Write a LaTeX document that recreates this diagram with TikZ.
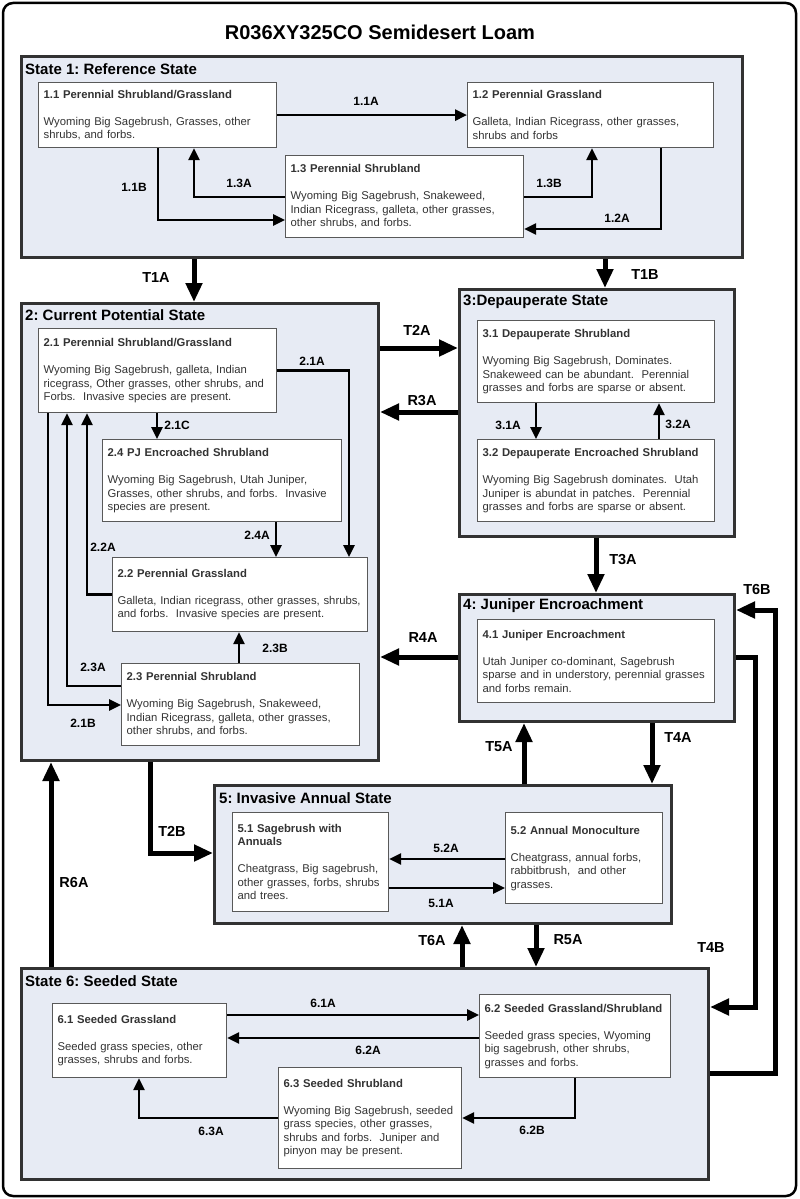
\documentclass[tikz,border=0pt]{standalone}
\usepackage{fontspec}
\setmainfont{Liberation Sans}
\usepackage{xcolor}
\usetikzlibrary{arrows.meta}
\frenchspacing
\definecolor{stfill}{RGB}{231,235,244}
\definecolor{stline}{RGB}{50,50,50}
\tikzset{
  state/.style = {draw=stline, line width=3pt, fill=stfill, anchor=north west,
                  inner sep=0pt},
  phase/.style 2 args = {draw=black!65, line width=1.2pt, fill=white,
                  anchor=north west, inner xsep=5pt, inner ysep=0pt,
                  text width=#1pt, minimum height=#2pt, align=left,
                  text=black!80, font=\fontsize{11.3}{13.5}\selectfont},
  sttl/.style = {anchor=west, inner sep=0pt, font=\fontsize{15}{18}\selectfont\bfseries},
  plab/.style = {inner sep=0pt, font=\fontsize{12}{14}\selectfont\bfseries},
  tlab/.style = {inner sep=0pt, font=\fontsize{14.5}{17}\selectfont\bfseries},
  pathw/.style = {line width=2.6pt, -{Triangle[length=12pt,width=11pt]}},
  trans/.style = {line width=5pt, -{Triangle[length=19pt,width=16pt]}}
}

\begin{document}
\begin{tikzpicture}[x=1pt, y=-1pt]
	\useasboundingbox (0,0) rectangle (800,1199);
	\fill[white] (0,0) rectangle (800,1199);
	\draw[line width=2.5pt, rounded corners=10pt] (3,3) rectangle (796,1196);
	\node[font=\fontsize{20}{24}\selectfont\bfseries] (ttl) at (380,32) {R036XY325CO Semidesert Loam};
	
	% State 1
	\node[state, minimum width=721pt, minimum height=201pt] (st1) at (20,55) {};
	\node[sttl] (t1) at (25,69) {State 1: Reference State};
	\node[phase={228}{65}] (s11) at (38,82) {\textbf{1.1 Perennial Shrubland/Grassland}\\[13.5pt]Wyoming Big Sagebrush, Grasses, other\\shrubs, and forbs.};
	\node[phase={236}{65}] (s12) at (467,82) {\textbf{1.2 Perennial Grassland}\\[13.5pt]Galleta, Indian Ricegrass, other grasses,\\shrubs and forbs};
	\node[phase={228}{82}] (s13) at (285,155) {\textbf{1.3 Perennial Shrubland}\\[13.5pt]Wyoming Big Sagebrush, Snakeweed,\\Indian Ricegrass, galleta, other grasses,\\other shrubs, and forbs.};
	
	% State 2
	\node[state, minimum width=357pt, minimum height=457pt] (st2) at (20,302) {};
	\node[sttl] (t2) at (25,315) {2: Current Potential State};
	\node[phase={228}{84}] (s21) at (38,328) {\textbf{2.1 Perennial Shrubland/Grassland}\\[13.5pt]Wyoming Big Sagebrush, galleta, Indian\\ricegrass, Other grasses, other shrubs, and\\Forbs.\ \ Invasive species are present.};
	\node[phase={229}{82}] (s24) at (102,439) {\textbf{2.4 PJ Encroached Shrubland}\\[13.5pt]Wyoming Big Sagebrush, Utah Juniper,\\Grasses, other shrubs, and forbs.\ \ Invasive\\species are present.};
	\node[phase={245}{74}] (s22) at (112,557) {\textbf{2.2 Perennial Grassland}\\[13.5pt]Galleta, Indian ricegrass, other grasses, shrubs,\\and forbs.\ \ Invasive species are present.};
	\node[phase={228}{82}] (s23) at (121,663) {\textbf{2.3 Perennial Shrubland}\\[13.5pt]Wyoming Big Sagebrush, Snakeweed,\\Indian Ricegrass, galleta, other grasses,\\other shrubs, and forbs.};
	
	% State 3
	\node[state, minimum width=275pt, minimum height=247pt] (st3) at (458,288) {};
	\node[sttl] (t3) at (463,302) {3:Depauperate State};
	\node[phase={227}{82}] (s31) at (477,320) {\textbf{3.1 Depauperate Shrubland}\\[13.5pt]Wyoming Big Sagebrush, Dominates.\\Snakeweed can be abundant.\ \ Perennial\\grasses and forbs are sparse or absent.};
	\node[phase={227}{82}] (s32) at (477,439) {\textbf{3.2 Depauperate Encroached Shrubland}\\[13.5pt]Wyoming Big Sagebrush dominates.\ \ Utah\\Juniper is abundat in patches.\ \ Perennial\\grasses and forbs are sparse or absent.};
	
	% State 4
	\node[state, minimum width=275pt, minimum height=127pt] (st4) at (458,593) {};
	\node[sttl] (t4) at (463,606) {4: Juniper Encroachment};
	\node[phase={227}{83}] (s41) at (477,619) {\textbf{4.1 Juniper Encroachment}\\[13.5pt]Utah Juniper co-dominant, Sagebrush\\sparse and in understory, perennial grasses\\and forbs remain.};
	
	% State 5
	\node[state, minimum width=457pt, minimum height=138pt] (st5) at (213,784) {};
	\node[sttl] (t5) at (219,798) {5: Invasive Annual State};
	\node[phase={146}{99}] (s51) at (232,812) {\textbf{5.1 Sagebrush with\\Annuals}\\[13.5pt]Cheatgrass, Big sagebrush,\\other grasses, forbs, shrubs\\and trees.};
	\node[phase={147}{91}] (s52) at (505,812) {\textbf{5.2 Annual Monoculture}\\[13.5pt]Cheatgrass, annual forbs,\\rabbitbrush,\ \ and other\\grasses.};
	
	% State 6
	\node[state, minimum width=687pt, minimum height=211pt] (st6) at (20,967) {};
	\node[sttl] (t6) at (25,981) {State 6: Seeded State};
	\node[phase={164}{74}] (s61) at (52,1003) {\textbf{6.1 Seeded Grassland}\\[13.5pt]Seeded grass species, other\\grasses, shrubs and forbs.};
	\node[phase={181}{83}] (s62) at (479,994) {\textbf{6.2 Seeded Grassland/Shrubland}\\[13.5pt]Seeded grass species, Wyoming\\big sagebrush, other shrubs,\\grasses and forbs.};
	\node[phase={173}{101}] (s63) at (278,1067) {\textbf{6.3 Seeded Shrubland}\\[13.5pt]Wyoming Big Sagebrush, seeded\\grass species, other grasses,\\shrubs and forbs.\ \ Juniper and\\pinyon may be present.};
	
	% Pathways within states
	\coordinate (p11B) at (158,220);
	\coordinate (p13A) at (194,197);
	\coordinate (p13B) at (592,197);
	\coordinate (p12A) at (661,229);
	\draw[pathw] (s11.east) -- (s12.west);
	\draw[pathw] (s11.south -| p11B) |- (s13.west |- p11B);
	\draw[pathw] (s13.west |- p13A) -| (s11.south -| p13A);
	\draw[pathw] (s13.east |- p13B) -| (s12.south -| p13B);
	\draw[pathw] (s12.south -| p12A) |- (s13.east |- p12A);
	
	\coordinate (p21A) at (349,0);
	\coordinate (p21C) at (157,0);
	\coordinate (p24A) at (276,0);
	\coordinate (p22A) at (87,0);
	\coordinate (p23B) at (239,0);
	\coordinate (p23A) at (67,686);
	\coordinate (p21B) at (48,705);
	\draw[pathw] (s21.east) -| (s22.north -| p21A);
	\draw[pathw] (s21.south -| p21C) -- (s24.north -| p21C);
	\draw[pathw] (s24.south -| p24A) -- (s22.north -| p24A);
	\draw[pathw] (s22.west) -| (s21.south -| p22A);
	\draw[pathw] (s23.north -| p23B) -- (s22.south -| p23B);
	\draw[pathw] (s23.west |- p23A) -| (s21.south -| p23A);
	\draw[pathw] (s21.south -| p21B) |- (s23.west |- p21B);
	
	\coordinate (p31A) at (536,0);
	\coordinate (p32A) at (659,0);
	\draw[pathw] (s31.south -| p31A) -- (s32.north -| p31A);
	\draw[pathw] (s32.north -| p32A) -- (s31.south -| p32A);
	
	\coordinate (p52A) at (0,859);
	\coordinate (p51A) at (0,888);
	\draw[pathw] (s52.west |- p52A) -- (s51.east |- p52A);
	\draw[pathw] (s51.east |- p51A) -- (s52.west |- p51A);
	
	\coordinate (p61A) at (0,1015);
	\coordinate (p62A) at (0,1038);
	\coordinate (p63A) at (139,1118);
	\coordinate (p62B) at (575,1118);
	\draw[pathw] (s61.east |- p61A) -- (s62.west |- p61A);
	\draw[pathw] (s62.west |- p62A) -- (s61.east |- p62A);
	\draw[pathw] (s63.west |- p63A) -| (s61.south -| p63A);
	\draw[pathw] (s62.south -| p62B) |- (s63.east |- p62B);
	
	\node[plab] (l11A) at (366,101) {1.1A};
	\node[plab] (l11B) at (134,187) {1.1B};
	\node[plab] (l13A) at (239,183) {1.3A};
	\node[plab] (l13B) at (549,183) {1.3B};
	\node[plab] (l12A) at (617,218) {1.2A};
	\node[plab] (l21A) at (312,361) {2.1A};
	\node[plab] (l21C) at (177,425) {2.1C};
	\node[plab] (l24A) at (257,535) {2.4A};
	\node[plab] (l22A) at (103,547) {2.2A};
	\node[plab] (l23B) at (275,648) {2.3B};
	\node[plab] (l23A) at (93,667) {2.3A};
	\node[plab] (l21B) at (83,723) {2.1B};
	\node[plab] (l31A) at (508,425) {3.1A};
	\node[plab] (l32A) at (678,424) {3.2A};
	\node[plab] (l52A) at (446,848) {5.2A};
	\node[plab] (l51A) at (441,903) {5.1A};
	\node[plab] (l61A) at (323,1003) {6.1A};
	\node[plab] (l62A) at (368,1050) {6.2A};
	\node[plab] (l63A) at (211,1131) {6.3A};
	\node[plab] (l62B) at (532,1130) {6.2B};
	
	% Transitions between states
	\coordinate (pT1A) at (194,0);
	\coordinate (pT1B) at (605,0);
	\coordinate (pT2A) at (0,348);
	\coordinate (pR3A) at (0,412);
	\coordinate (pT3A) at (596,0);
	\coordinate (pR4A) at (0,657);
	\coordinate (pT5A) at (524,0);
	\coordinate (pT4A) at (652,0);
	\coordinate (pT4B) at (755,1007);
	\coordinate (pT6B) at (775,1073);
	\coordinate (qT6B) at (0,610);
	\coordinate (pT2B) at (150,853);
	\coordinate (pR6A) at (51,0);
	\coordinate (pT6A) at (462,0);
	\coordinate (pR5A) at (536,0);
	\draw[trans] (st1.south -| pT1A) -- (st2.north -| pT1A);
	\draw[trans] (st1.south -| pT1B) -- (st3.north -| pT1B);
	\draw[trans] (st2.east |- pT2A) -- (st3.west |- pT2A);
	\draw[trans] (st3.west |- pR3A) -- (st2.east |- pR3A);
	\draw[trans] (st3.south -| pT3A) -- (st4.north -| pT3A);
	\draw[trans] (st4.west |- pR4A) -- (st2.east |- pR4A);
	\draw[trans] (st5.north -| pT5A) -- (st4.south -| pT5A);
	\draw[trans] (st4.south -| pT4A) -- (st5.north -| pT4A);
	\draw[trans] (st4.east |- pR4A) -| (pT4B) -- (st6.east |- pT4B);
	\draw[trans] (st6.east |- pT6B) -| (pT6B |- qT6B) -- (st4.east |- qT6B);
	\draw[trans] (st2.south -| pT2B) |- (st5.west |- pT2B);
	\draw[trans] (st6.north -| pR6A) -- (st2.south -| pR6A);
	\draw[trans] (st6.north -| pT6A) -- (st5.south -| pT6A);
	\draw[trans] (st5.south -| pR5A) -- (st6.north -| pR5A);
	
	\node[tlab] (lT1A) at (156,278) {T1A};
	\node[tlab] (lT1B) at (645,275) {T1B};
	\node[tlab] (lT2A) at (417,330) {T2A};
	\node[tlab] (lR3A) at (422,401) {R3A};
	\node[tlab] (lT3A) at (623,560) {T3A};
	\node[tlab] (lR4A) at (423,638) {R4A};
	\node[tlab] (lT6B) at (757,590) {T6B};
	\node[tlab] (lT5A) at (499,747) {T5A};
	\node[tlab] (lT4A) at (678,738) {T4A};
	\node[tlab] (lT2B) at (172,831) {T2B};
	\node[tlab] (lR6A) at (74,882) {R6A};
	\node[tlab] (lT6A) at (432,940) {T6A};
	\node[tlab] (lR5A) at (568,940) {R5A};
	\node[tlab] (lT4B) at (711,948) {T4B};
\end{tikzpicture}
\end{document}
